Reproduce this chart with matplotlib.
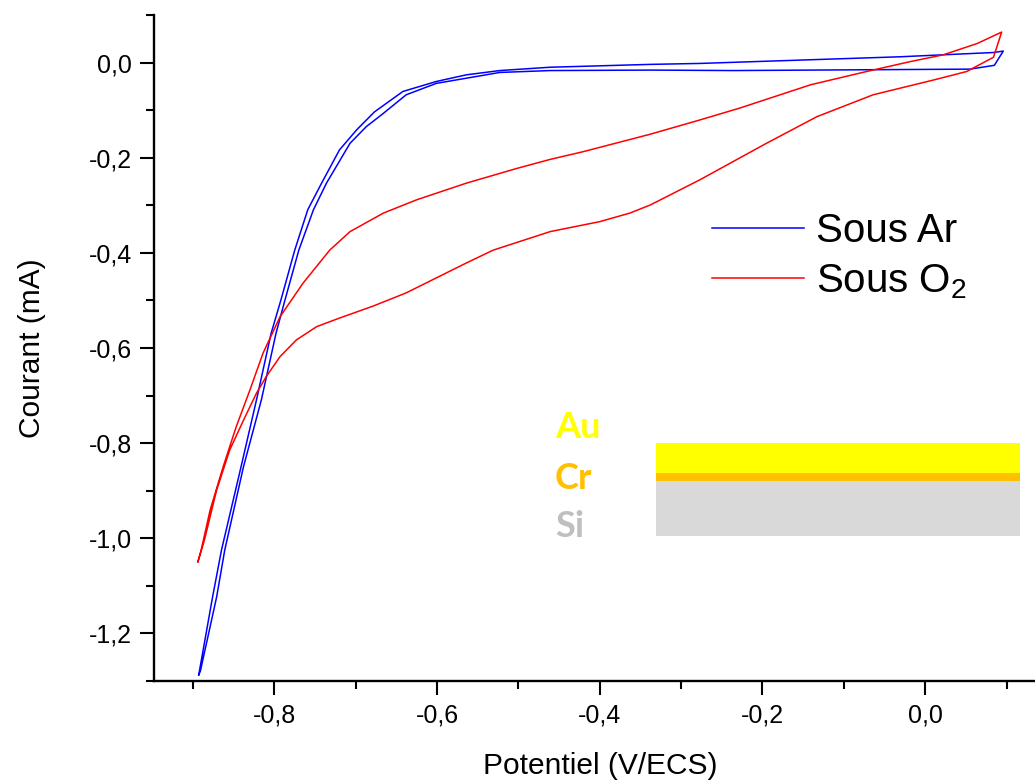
import matplotlib
matplotlib.use("Agg")
import matplotlib.pyplot as plt
from matplotlib.ticker import MultipleLocator, FuncFormatter
from matplotlib.patches import Rectangle

plt.rcParams['font.family'] = ['Liberation Sans', 'DejaVu Sans']
plt.rcParams['mathtext.fontset'] = 'custom'
plt.rcParams['mathtext.rm'] = 'Liberation Sans'

# cyclic voltammogram under argon (closed loop, V/ECS vs mA)
ar_x = [-0.893, -0.891, -0.871, -0.861, -0.838, -0.816, -0.798, -0.787, -0.770,
        -0.752, -0.736, -0.707, -0.687, -0.666, -0.638, -0.601, -0.523, -0.461,
        -0.338, -0.236, 0.055, 0.085, 0.096, 0.084, -0.031, -0.277, -0.338,
        -0.461, -0.523, -0.564, -0.601, -0.642, -0.677, -0.699, -0.720, -0.742,
        -0.759, -0.775, -0.792, -0.804, -0.822, -0.841, -0.865, -0.876, -0.893]
ar_y = [-1.288, -1.280, -1.124, -1.025, -0.850, -0.709, -0.569, -0.499, -0.394,
        -0.309, -0.253, -0.169, -0.134, -0.106, -0.067, -0.043, -0.020, -0.016,
        -0.015, -0.016, -0.013, -0.005, 0.025, 0.022, 0.013, -0.001, -0.003,
        -0.009, -0.016, -0.025, -0.039, -0.060, -0.103, -0.141, -0.183, -0.253,
        -0.309, -0.394, -0.499, -0.569, -0.709, -0.850, -1.025, -1.124, -1.288]

# cyclic voltammogram under O2
o2_x = [-0.894, -0.890, -0.879, -0.863, -0.847, -0.830, -0.814, -0.793, -0.765,
        -0.732, -0.707, -0.666, -0.625, -0.564, -0.502, -0.461, -0.421, -0.338,
        -0.277, -0.228, -0.141, -0.072, -0.018, 0.022, 0.064, 0.094, 0.084,
        0.051, 0.010, -0.064, -0.133, -0.195, -0.277, -0.338, -0.363, -0.400,
        -0.461, -0.531, -0.564, -0.638, -0.679, -0.720, -0.748, -0.773, -0.793,
        -0.810, -0.822, -0.838, -0.855, -0.871, -0.886, -0.894]
o2_y = [-1.050, -1.025, -0.941, -0.850, -0.766, -0.688, -0.611, -0.534, -0.464,
        -0.394, -0.355, -0.316, -0.288, -0.253, -0.222, -0.203, -0.187, -0.150,
        -0.120, -0.095, -0.046, -0.018, 0.003, 0.017, 0.041, 0.065, 0.012,
        -0.018, -0.036, -0.067, -0.113, -0.169, -0.246, -0.299, -0.316, -0.334,
        -0.355, -0.394, -0.421, -0.484, -0.512, -0.537, -0.555, -0.583, -0.618,
        -0.660, -0.695, -0.752, -0.815, -0.899, -1.004, -1.050]

# electrode stack sketch
layers = ['Au', 'Cr', 'Si']
layer_bottom = [-0.863, -0.880, -0.996]
layer_top = [-0.800, -0.863, -0.880]
layer_colors = ['#FFFF00', '#FFC000', '#D9D9D9']
label_colors = ['#FFFF00', '#FFC000', '#BFBFBF']
label_y = [-0.768, -0.874, -0.975]
stack_x = (-0.331, 0.116)

fig = plt.figure(figsize=(10.35, 7.8), dpi=100)
ax = fig.add_axes([0.1488, 0.1269, 1 - 0.1488, 0.9808 - 0.1269])

ax.plot(ar_x, ar_y, color='#0000FF', lw=1.1, label='Sous Ar')
ax.plot(o2_x, o2_y, color='#FF0000', lw=1.1, label='Sous O$_2$')

for name, b, t, c in zip(layers, layer_bottom, layer_top, layer_colors):
    ax.add_patch(Rectangle((stack_x[0], b), stack_x[1] - stack_x[0], t - b,
                           facecolor=c, edgecolor='none', zorder=1))
for name, yy, c in zip(layers, label_y, label_colors):
    ax.text(-0.455, yy, name, color=c, fontsize=26, fontweight='bold',
            family=['Lato', 'DejaVu Sans'], ha='left', va='center')

ax.set_xlim(-0.948, 0.135)
ax.set_ylim(-1.301, 0.101)

for s in ['top', 'right']:
    ax.spines[s].set_visible(False)
for s in ['left', 'bottom']:
    ax.spines[s].set_linewidth(1.7)

ax.xaxis.set_major_locator(MultipleLocator(0.2))
ax.xaxis.set_minor_locator(MultipleLocator(0.1))
ax.yaxis.set_major_locator(MultipleLocator(0.2))
ax.yaxis.set_minor_locator(MultipleLocator(0.1))
fmt = FuncFormatter(lambda v, p: ('%.1f' % (0.0 if abs(v) < 1e-9 else v)).replace('.', ','))
ax.xaxis.set_major_formatter(fmt)
ax.yaxis.set_major_formatter(fmt)
ax.tick_params(which='major', direction='out', length=10, width=1.5, labelsize=18, pad=6)
ax.tick_params(which='minor', direction='out', length=5.8, width=1.5)

ax.set_xlabel('Potentiel (V/ECS)', fontsize=21.5)
ax.set_ylabel('Courant (mA)', fontsize=21.5)
ax.xaxis.set_label_coords(0.507, -0.107)
ax.yaxis.set_label_coords(-0.123, 0.5)

leg = ax.legend(loc='upper left', bbox_to_anchor=(0.633, 0.704), frameon=False,
                fontsize=29, handlelength=2.28, handletextpad=0.32,
                labelspacing=0.3, borderpad=0, borderaxespad=0)

fig.savefig('out.png', dpi=100)
